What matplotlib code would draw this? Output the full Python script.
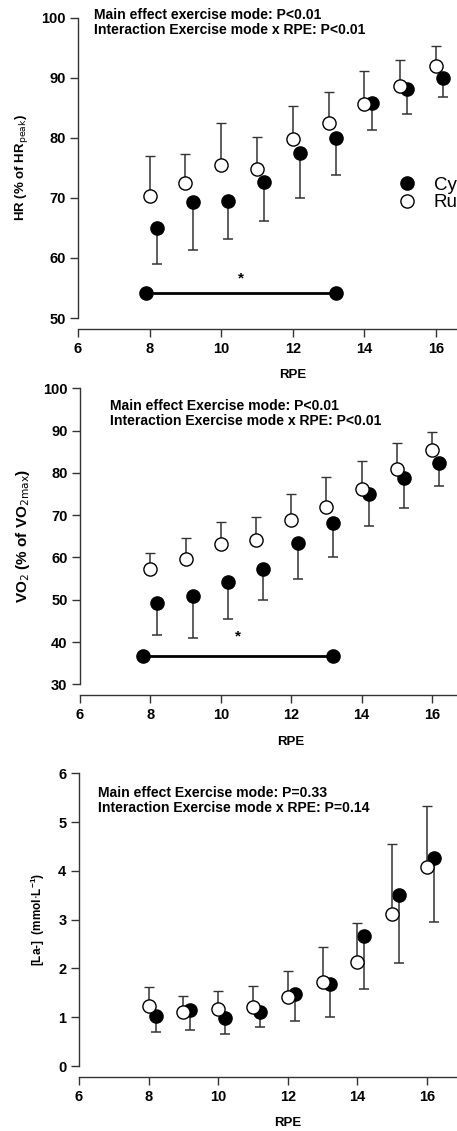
import matplotlib
matplotlib.use('Agg')
import matplotlib.pyplot as plt
from matplotlib.lines import Line2D

plt.rcParams['font.family'] = ['Liberation Sans', 'DejaVu Sans']

rpe = [8, 9, 10, 11, 12, 13, 14, 15, 16]

hr_run = [70.3, 72.5, 75.4, 74.8, 79.8, 82.4, 85.6, 88.6, 91.9]
hr_run_sd = [6.7, 4.8, 7.1, 5.4, 5.5, 5.3, 5.5, 4.4, 3.4]
hr_cyc = [65.0, 69.3, 69.4, 72.7, 77.4, 79.9, 85.8, 88.1, 89.9]
hr_cyc_sd = [6.0, 7.9, 6.2, 6.5, 7.4, 6.1, 4.5, 4.2, 3.1]

vo2_run = [57.2, 59.7, 63.2, 64.1, 68.9, 72.0, 76.3, 80.9, 85.4]
vo2_run_sd = [3.9, 4.8, 5.3, 5.4, 6.0, 7.0, 6.4, 6.2, 4.3]
vo2_cyc = [49.3, 51.0, 54.1, 57.3, 63.4, 68.1, 75.0, 78.7, 82.3]
vo2_cyc_sd = [7.6, 10.1, 8.7, 7.3, 8.4, 8.0, 7.5, 7.1, 5.3]

la_run = [1.23, 1.11, 1.17, 1.20, 1.42, 1.72, 2.14, 3.12, 4.07]
la_run_sd = [0.38, 0.33, 0.37, 0.43, 0.53, 0.71, 0.79, 1.43, 1.25]
la_cyc = [1.03, 1.14, 0.98, 1.10, 1.47, 1.68, 2.67, 3.50, 4.26]
la_cyc_sd = [0.33, 0.40, 0.33, 0.31, 0.55, 0.68, 1.10, 1.39, 1.30]

# significance bars (x from, x to, y)
hr_sig = [7.9, 13.2, 54.1]
vo2_sig = [7.8, 13.2, 36.7]

W, H = 457, 1131
fig = plt.figure(figsize=(W / 100, H / 100), dpi=100)


def make_axes(left, top, bottom, unit):
    # pixel positions -> figure fraction
    return fig.add_axes([left / W, 1 - bottom / H, 12 * unit / W, (bottom - top) / H])


def panel(ax, run, run_sd, cyc, cyc_sd, ylim, ystep, ylabel, notes, note_xy, ylab_size):
    cx = [r + 0.2 for r in rpe]
    ax.errorbar(cx, cyc, yerr=[cyc_sd, [0] * len(cyc)], fmt='o', color='black',
                ecolor='#333333', elinewidth=1.1, capsize=3.8, capthick=1.1,
                markersize=9.5, mec='black', zorder=3)
    ax.errorbar(rpe, run, yerr=[[0] * len(run), run_sd], fmt='o', color='white',
                ecolor='#333333', elinewidth=1.1, capsize=3.8, capthick=1.1,
                markersize=9.5, mec='black', mew=1.0, zorder=4)
    ax.set_xlim(6, 18)
    ax.set_ylim(*ylim)
    ax.set_xticks(range(6, 19, 2))
    yt = []
    v = ylim[0]
    while v <= ylim[1] + 1e-9:
        yt.append(v)
        v += ystep
    ax.set_yticks(yt)
    for s in ['top', 'right']:
        ax.spines[s].set_visible(False)
    ax.spines['bottom'].set_position(('outward', 8))
    for s in ['left', 'bottom']:
        ax.spines[s].set_linewidth(1.0)
        ax.spines[s].set_color('#333333')
    ax.tick_params(direction='out', length=6, width=1.0, color='#333333',
                   labelsize=10.5, pad=3)
    for lab in ax.get_xticklabels() + ax.get_yticklabels():
        lab.set_fontweight('bold')
    ax.set_xlabel('RPE', fontsize=9.5, fontweight='bold', labelpad=10)
    ax.set_ylabel(ylabel, fontsize=ylab_size, fontweight='bold', labelpad=8)
    ax.text(note_xy[0] / W, 1 - note_xy[1] / H, notes, transform=fig.transFigure,
            fontsize=10.1, fontweight='bold', va='top', ha='left', linespacing=1.05)


ax1 = make_axes(78, 17.7, 318, 35.8)
panel(ax1, hr_run, hr_run_sd, hr_cyc, hr_cyc_sd, (50, 100), 10,
      r'HR (% of HR$_{\mathrm{peak}}$)',
      'Main effect exercise mode: P<0.01\nInteraction Exercise mode x RPE: P<0.01',
      (94, 8), 9.5)
ax1.plot(hr_sig[:2], [hr_sig[2]] * 2, '-o', color='black', lw=2, markersize=9.5, zorder=3)
ax1.text(10.55, hr_sig[2] + 2.5, '*', ha='center', va='center', fontsize=11, fontweight='bold')
handles = [Line2D([], [], marker='o', ls='', color='black', markersize=9.5),
           Line2D([], [], marker='o', ls='', mfc='white', mec='black', markersize=9.5)]
ax1.legend(handles, ['Cycling', 'Running'], loc='center left',
           bbox_to_anchor=(388 / W, 1 - 194 / H), bbox_transform=fig.transFigure,
           frameon=False, fontsize=13.5, handlelength=1.0, handletextpad=0.94,
           labelspacing=0.0, borderpad=0)

ax2 = make_axes(80, 388.3, 684.3, 35.2)
panel(ax2, vo2_run, vo2_run_sd, vo2_cyc, vo2_cyc_sd, (30, 100), 10,
      r'VO$_2$ (% of VO$_{2\mathrm{max}}$)',
      'Main effect Exercise mode: P<0.01\nInteraction Exercise mode x RPE: P<0.01',
      (110, 399), 11)
ax2.plot(vo2_sig[:2], [vo2_sig[2]] * 2, '-o', color='black', lw=2, markersize=9.5, zorder=3)
ax2.text(10.5, vo2_sig[2] + 4.5, '*', ha='center', va='center', fontsize=11, fontweight='bold')

ax3 = make_axes(79, 773.3, 1066, 34.8)
panel(ax3, la_run, la_run_sd, la_cyc, la_cyc_sd, (0, 6), 1,
      r'[La-]  (mmol$\cdot$L$^{\mathdefault{-1}}$)',
      'Main effect Exercise mode: P=0.33\nInteraction Exercise mode x RPE: P=0.14',
      (98, 786), 8.5)

fig.savefig('out.png', dpi=100)
